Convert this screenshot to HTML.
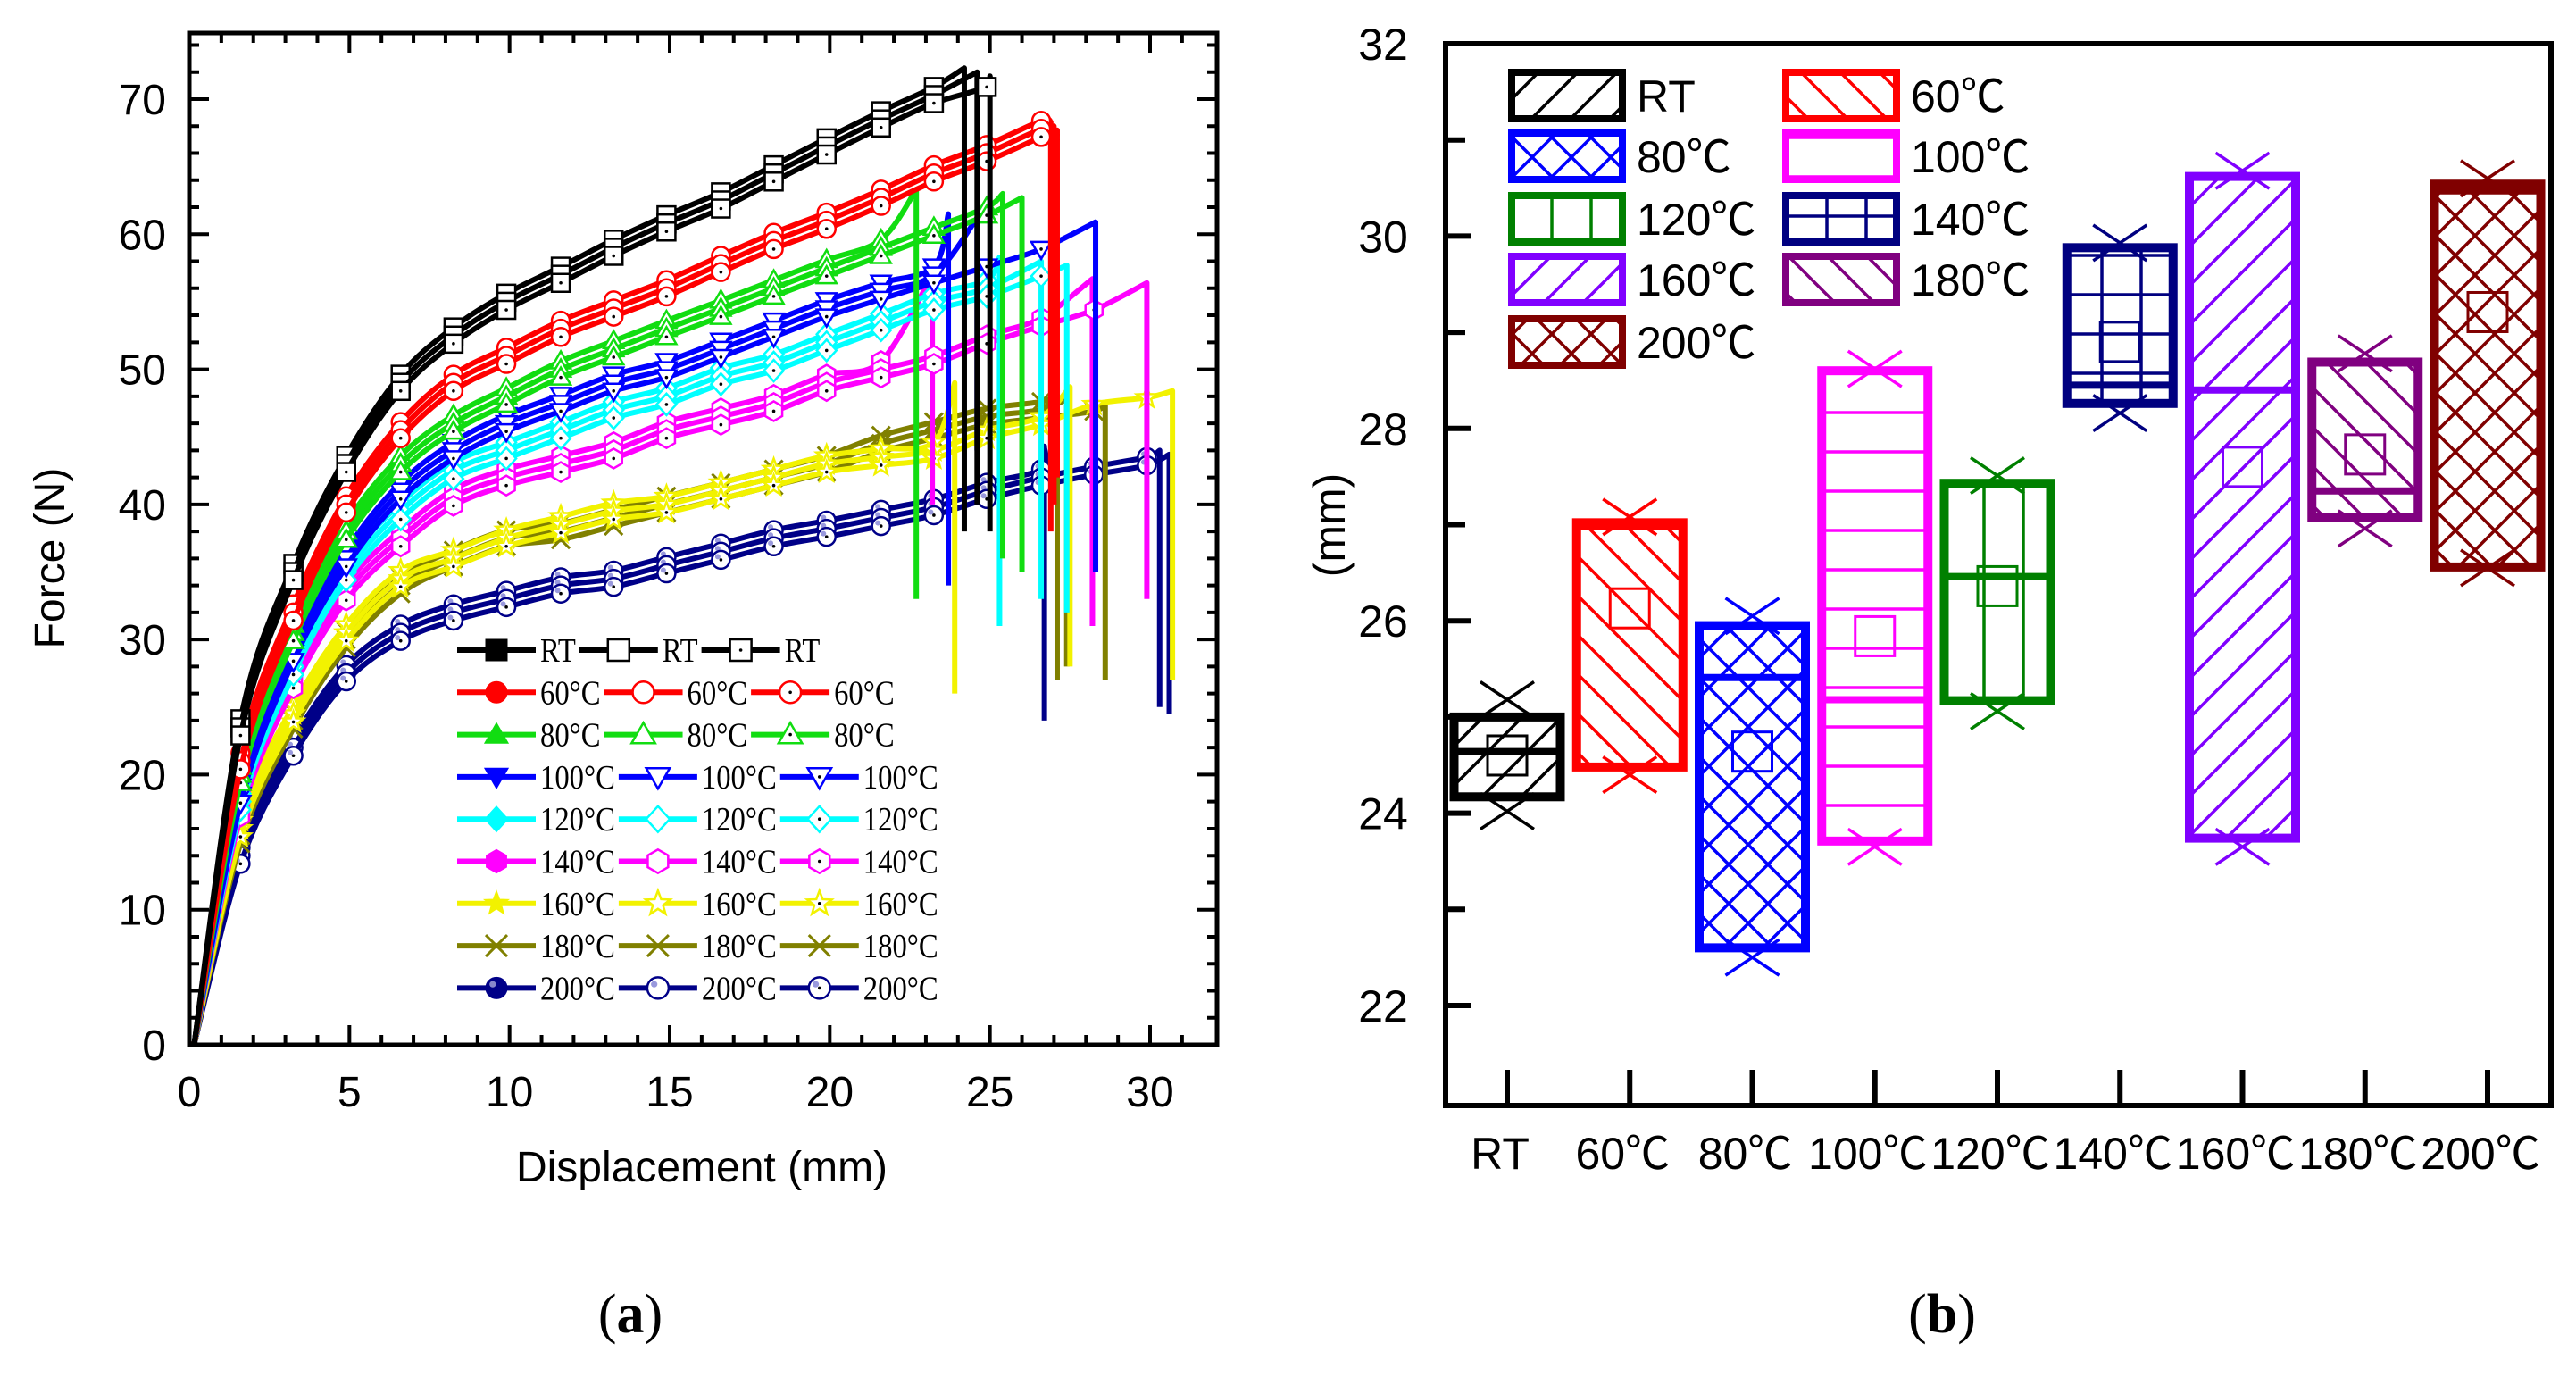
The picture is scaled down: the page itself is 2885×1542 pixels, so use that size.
<!DOCTYPE html>
<html><head><meta charset="utf-8"><style>
html,body{margin:0;padding:0;background:#fff;}
svg{display:block;}
text{font-family:"Liberation Sans","Noto Sans CJK SC",sans-serif;}
.serif{font-family:"Liberation Serif","Noto Serif CJK SC",serif;}
</style></head><body>
<svg id="svg" xmlns="http://www.w3.org/2000/svg" width="2885" height="1542" viewBox="0 0 2885 1542">
<defs id="defs"></defs>
<g id="left"></g>
<g id="right"></g>
<text x="706" y="1492" font-size="62" text-anchor="middle" class="serif">(<tspan font-weight="bold">a</tspan>)</text>
<text x="2175" y="1492" font-size="62" text-anchor="middle" class="serif">(<tspan font-weight="bold">b</tspan>)</text>
</svg>
<script>
// ---------- Left chart data ----------
const temps = ["RT","60°C","80°C","100°C","120°C","140°C","160°C","180°C","200°C"];
const lineColors = ["#000000","#ff0000","#11dd11","#0000ff","#00ffff","#ff00ff","#f2f200","#808000","#000088"];
const markerTypes = ["square","circle","triUp","triDown","diamond","hex","star","cross","ball"];
const markerX = [0,1.6,3.25,4.9,6.6,8.25,9.9,11.6,13.25,14.9,16.6,18.25,19.9,21.6,23.25,24.9,26.6,28.25,29.9];
const forceRT  = [0,23.5,35,43,49,52.5,55,57,59,60.8,62.5,64.5,66.5,68.5,70.3,71.5];
const force60  = [0,21,32,40,45.5,49,51,53,54.5,56,57.8,59.5,61,62.7,64.5,66,67.8];
const force80  = [0,20,30.5,38,43,46,48,50,51.5,53,54.5,56,57.5,59,60.5,62];
const force100 = [0,18.5,29,36,41,44,46,47.5,49,50,51.5,53,54.5,55.8,57,58.2,59.5,61];
const force120 = [0,18,28,35,39.5,42.5,44,45.5,47,48,49.5,50.5,52,53.5,55,56,57.5];
const force140 = [0,17.5,27,33.5,37.5,40.5,42,43,44,45.5,46.5,47.5,49,50,51,52.5,53.8,55,56];
const force160 = [0,16,24.5,30.5,34.5,36,37.5,38.5,39.5,40,41,42,43,43.5,44,45.5,46.5,48,48.5];
const force180 = [0,15.5,24,30,34,36,37.5,38,39,40,41,42,43,44.5,45.5,46.5,47,47.5];
const force200 = [0,14,22,27.5,30.5,32,33,34,34.5,35.5,36.5,37.5,38.2,39,39.8,41,42,42.8,43.5];
const forces = [forceRT,force60,force80,force100,force120,force140,force160,force180,force200];
const peakForce = [72,68,63,61.2,58,56.7,48.7,47.8,44];
const endDisp = [[24.2,24.6,25.0],[26.9,27.0,27.1],[22.7,25.4,26.0],[23.7,24.6,28.3],[25.3,26.6,27.4],[23.2,28.2,29.9],[23.9,27.5,30.7],[27.1,27.4,28.6],[26.7,30.3,30.6]];
const dropForce = [[38,40,38],[38,40,42],[33,36,35],[34,44,35],[31,33,32],[40,31,33],[26,28,27],[27,28,27],[24,25,24.5]];
const repOffset = [0.6,0,-0.6];
const xTicks = [0,5,10,15,20,25,30];
const yTicks = [0,10,20,30,40,50,60,70];

// ---------- Right chart data ----------
const cats = ["RT","60℃","80℃","100℃","120℃","140℃","160℃","180℃","200℃"];
const boxColors = ["#000000","#ff0000","#0000ff","#ff00ff","#008000","#000080","#8000ff","#800080","#800000"];
const hatchTypes = ["fwd","back","cross","horiz","vert","grid","fwd","back","cross"];
const boxQ1 = [24.17,24.48,22.6,23.71,25.17,28.26,23.74,27.07,26.56];
const boxQ3 = [25.0,27.02,25.95,28.6,27.43,29.88,30.62,28.69,30.54];
const boxMedian = [24.64,26.98,25.41,25.18,26.46,28.45,28.4,27.35,30.47];
const boxMean = [24.6,26.13,24.64,25.84,26.36,28.9,27.6,27.73,29.21];
const boxMin = [24.02,24.4,22.5,23.65,25.06,28.16,23.65,26.96,26.55];
const boxMax = [25.18,27.08,26.05,28.62,27.51,29.93,30.68,28.78,30.6];
const y2Ticks = [22,24,26,28,30,32];

const NS="http://www.w3.org/2000/svg";
function mk(tag,attrs,parent){const e=document.createElementNS(NS,tag);for(const k in attrs)e.setAttribute(k,attrs[k]);parent.appendChild(e);return e;}

// ---------- Left chart ----------
const L=document.getElementById('left');
const X=v=>212+v*(1288-212)/30;
const Y=v=>1170-v*(1170-111)/70;
const LB={l:212,r:1363,t:37,b:1170};
function markerShape(type,cx,cy,s,color,variant,parent){
  const fill=variant===0?color:"#fff";
  const sw=variant===0?1:2.5;
  let e;
  const g=mk('g',{},parent);
  
  
  if(type==="square"){e=mk('rect',{x:cx-s,y:cy-s,width:2*s,height:2*s,fill:fill,stroke:variant===0?color:"#000",'stroke-width':sw},g);}
  else if(type==="circle"||type==="ball"){e=mk('circle',{cx:cx,cy:cy,r:s,fill:type==="ball"&&variant===0?color:fill,stroke:color,'stroke-width':sw},g);
    if(type==="ball")mk('circle',{cx:cx-s*0.35,cy:cy-s*0.35,r:s*0.3,fill:variant===0?"#8888cc":"#9999dd"},g);}
  else if(type==="triUp"){mk('polygon',{points:`${cx},${cy-s*1.1} ${cx-s*1.1},${cy+s*0.8} ${cx+s*1.1},${cy+s*0.8}`,fill:fill,stroke:color,'stroke-width':sw},g);}
  else if(type==="triDown"){mk('polygon',{points:`${cx},${cy+s*1.1} ${cx-s*1.1},${cy-s*0.8} ${cx+s*1.1},${cy-s*0.8}`,fill:fill,stroke:color,'stroke-width':sw},g);}
  else if(type==="diamond"){mk('polygon',{points:`${cx},${cy-s*1.2} ${cx+s*1.1},${cy} ${cx},${cy+s*1.2} ${cx-s*1.1},${cy}`,fill:fill,stroke:color,'stroke-width':sw},g);}
  else if(type==="hex"){let p=[];for(let i=0;i<6;i++){const a=Math.PI/6+i*Math.PI/3;p.push((cx+s*1.1*Math.cos(a))+","+(cy+s*1.1*Math.sin(a)));}mk('polygon',{points:p.join(' '),fill:fill,stroke:color,'stroke-width':sw},g);}
  else if(type==="star"){let p=[];for(let i=0;i<10;i++){const a=-Math.PI/2+i*Math.PI/5;const r=i%2?s*0.5:s*1.2;p.push((cx+r*Math.cos(a))+","+(cy+r*Math.sin(a)));}mk('polygon',{points:p.join(' '),fill:fill,stroke:color,'stroke-width':sw},g);}
  else if(type==="cross"){mk('path',{d:`M${cx-s},${cy-s}L${cx+s},${cy+s}M${cx-s},${cy+s}L${cx+s},${cy-s}`,stroke:color,'stroke-width':3,fill:"none"},g);}
  if(variant===2&&type!=="cross")mk('circle',{cx:cx,cy:cy,r:1.8,fill:"#000"},g);
}
// curves
for(let t=temps.length-1;t>=0;t--){
  for(let r=0;r<3;r++){
    const ex=endDisp[t][r],off=repOffset[r];
    const pts=[];
    forces[t].forEach((f,i)=>{if(markerX[i]<ex-0.05)pts.push([X(markerX[i]),Y(f+off)]);});
    pts.push([X(ex),Y(peakForce[t]+off*0.5)]);
    // smooth path (catmull-rom)
    let d=`M${X(0.15)},${Y(0)}`;
    const P=[[X(0.15),Y(0)]].concat(pts.slice(1));
    for(let i=0;i<P.length-1;i++){
      const p0=P[i-1]||P[i],p1=P[i],p2=P[i+1],p3=P[i+2]||P[i+1];
      const c1=[p1[0]+(p2[0]-p0[0])/6,p1[1]+(p2[1]-p0[1])/6];
      const c2=[p2[0]-(p3[0]-p1[0])/6,p2[1]-(p3[1]-p1[1])/6];
      d+=`C${c1[0]},${c1[1]} ${c2[0]},${c2[1]} ${p2[0]},${p2[1]}`;
    }
    d+=`L${X(ex)},${Y(dropForce[t][r])}`;
    const path=mk('path',{d:d,fill:'none',stroke:lineColors[t],'stroke-width':6,'stroke-linejoin':'round'},L);
    
    
    forces[t].forEach((f,i)=>{if(i>0&&markerX[i]<ex-0.05&&(i+r)%1===0){
      markerShape(markerTypes[t],X(markerX[i]),Y(f+off),10,lineColors[t],r===0?1:r,L);}});
  }
}
// axes frame
const frame=mk('rect',{x:LB.l,y:LB.t,width:LB.r-LB.l,height:LB.b-LB.t,fill:'none',stroke:'#000','stroke-width':5},L);


let tk='';
for(let v=0;v<=31;v++){const x=X(v);if(x>LB.r)break;const len=v%5===0?22:11;tk+=`M${x},${LB.b}v${-len}M${x},${LB.t}v${len}`;}
for(let v=0;v<=74;v+=2){const y=Y(v);if(y<LB.t)break;const len=v%10===0?22:11;tk+=`M${LB.l},${y}h${len}M${LB.r},${y}h${-len}`;}
const tks=mk('path',{d:tk,stroke:'#000','stroke-width':4},L);


xTicks.forEach(v=>{const t=mk('text',{x:X(v),y:1239,'font-size':48,'text-anchor':'middle'},L);t.textContent=v;
  
  });
yTicks.forEach(v=>{const t=mk('text',{x:186,y:Y(v)+17,'font-size':48,'text-anchor':'end'},L);t.textContent=v;
  
  });
{const t=mk('text',{x:786,y:1323,'font-size':48,'text-anchor':'middle'},L);t.textContent='Displacement (mm)';


const t2=mk('text',{x:0,y:0,'font-size':48,'text-anchor':'middle',transform:'translate(72,625) rotate(-90)'},L);t2.textContent='Force (N)';

}
// legend
temps.forEach((name,t)=>{
  const y=728+t*47.3;let x=512;
  for(let r=0;r<3;r++){
    const g=mk('g',{},L);
    
    
    mk('line',{x1:x,y1:y,x2:x+88,y2:y,stroke:lineColors[t],'stroke-width':6},g);
    markerShape(markerTypes[t],x+44,y,12,lineColors[t],r,g);
    const tx=mk('text',{x:x+93,y:y+13,'font-size':38,'class':'serif'},g);tx.textContent=name;
    x=x+93+tx.getComputedTextLength()*0.86+4;
    tx.setAttribute('textLength',tx.getComputedTextLength()*0.86);
    tx.setAttribute('lengthAdjust','spacingAndGlyphs');
  }
});

// ---------- Right chart ----------
const R=document.getElementById('right');
const defs=document.getElementById('defs');
const RB={l:1619,r:2857,t:49,b:1238};
const Y2=v=>49+(32-v)*(1126-49)/10;
const CX=i=>1688+i*(2786-1688)/8;
const BW=119;
boxColors.forEach((c,i)=>{
  const p=mk('pattern',{id:'h'+i,patternUnits:'userSpaceOnUse',width:44,height:44},defs);
  const h=hatchTypes[i];let d='';
  if(h==='fwd')d='M0,44L44,0M-11,11L11,-11M33,55L55,33';
  if(h==='back')d='M0,0L44,44M-11,33L11,55M33,-11L55,11';
  if(h==='cross')d='M0,44L44,0M-11,11L11,-11M33,55L55,33M0,0L44,44M-11,33L11,55M33,-11L55,11';
  if(h==='horiz')d='M0,22H44';
  if(h==='vert')d='M22,0V44';
  if(h==='grid')d='M0,22H44M22,0V44';
  mk('path',{d:d,stroke:c,'stroke-width':3.5,fill:'none'},p);
});
cats.forEach((name,i)=>{
  const g=mk('g',{},R);
  
  
  const c=boxColors[i],x=CX(i);
  mk('rect',{x:x-BW/2,y:Y2(boxQ3[i]),width:BW,height:Y2(boxQ1[i])-Y2(boxQ3[i]),fill:'url(#h'+i+')',stroke:c,'stroke-width':10},g);
  mk('line',{x1:x-BW/2,x2:x+BW/2,y1:Y2(boxMedian[i]),y2:Y2(boxMedian[i]),stroke:c,'stroke-width':8},g);
  mk('rect',{x:x-22,y:Y2(boxMean[i])-22,width:44,height:44,fill:'none',stroke:c,'stroke-width':3},g);
  [boxMin[i],boxMax[i]].forEach(v=>{const y=Y2(v);
    mk('path',{d:`M${x-30},${y-20}L${x+30},${y+20}M${x-30},${y+20}L${x+30},${y-20}`,stroke:c,'stroke-width':3.5},g);});
});
const f2=mk('rect',{x:RB.l,y:RB.t,width:RB.r-RB.l,height:RB.b-RB.t,fill:'none',stroke:'#000','stroke-width':6},R);


let tk2='';
for(let v=22;v<=32;v++){const y=Y2(v);tk2+=`M${RB.l},${y}h${v%2===0?28:22}`;}
cats.forEach((n,i)=>{tk2+=`M${CX(i)},${RB.b}v-40`;});
const tk2e=mk('path',{d:tk2,stroke:'#000','stroke-width':6},R);


y2Ticks.forEach(v=>{const t=mk('text',{x:1549,y:Y2(v)+18,'font-size':50,'text-anchor':'middle'},R);t.textContent=v;
  
  });
cats.forEach((n,i)=>{const t=mk('text',{x:CX(i)-8,y:1309,'font-size':50,'text-anchor':'middle'},R);t.textContent=n;
  
  });
{const t=mk('text',{x:0,y:0,'font-size':50,'text-anchor':'middle',transform:'translate(1506,588) rotate(-90)'},R);t.textContent='(mm)';

}
cats.forEach((n,i)=>{
  const col=i%2,row=Math.floor(i/2);
  const px=col?2000:1693,py=[107,175,245,313,383][row];
  const g=mk('g',{},R);
  
  
  mk('rect',{x:px,y:py-26,width:124,height:52,fill:'url(#h'+i+')',stroke:boxColors[i],'stroke-width':8},g);
  const t=mk('text',{x:px+140,y:py+18,'font-size':50},g);t.textContent=n;
});
</script>
</body></html>
